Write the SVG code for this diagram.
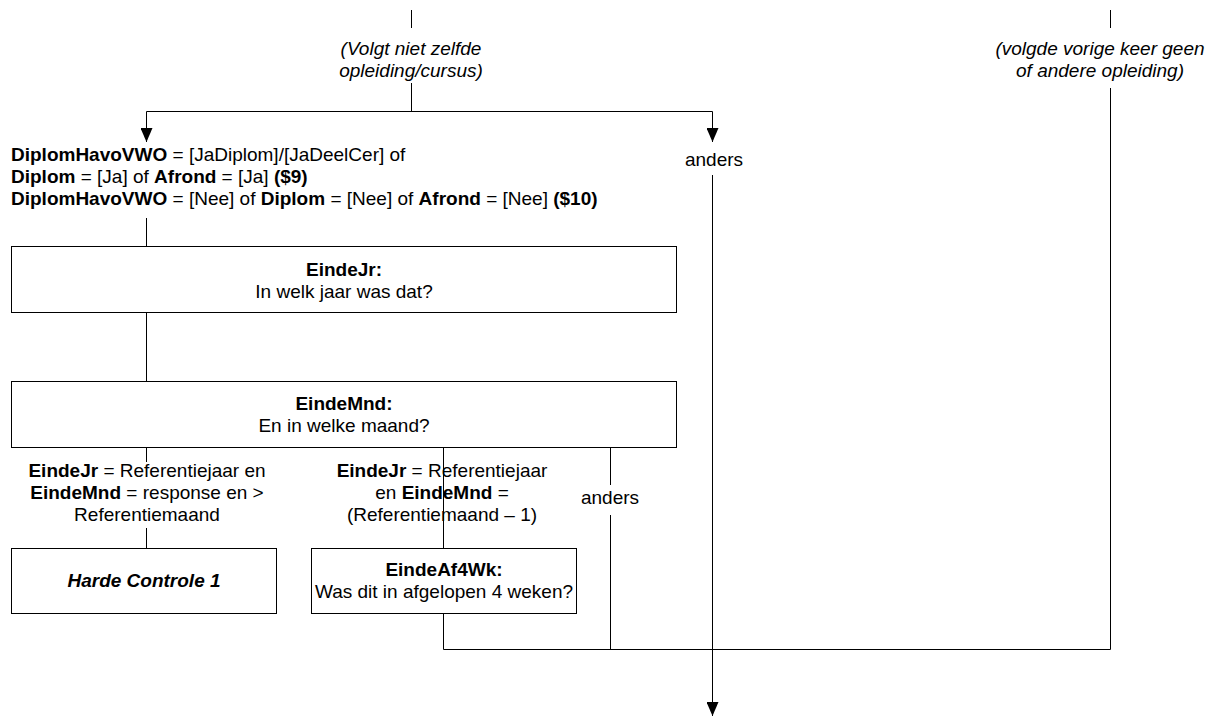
<svg xmlns="http://www.w3.org/2000/svg" width="1208" height="716" viewBox="0 0 1208 716">
<defs>
<marker id="arr" markerWidth="14" markerHeight="12" refX="14" refY="6" orient="auto" markerUnits="userSpaceOnUse" viewBox="0 0 14 12">
<path d="M0,0 L14,6 L0,12 Z" fill="#000"/>
</marker>
<style>
text{font-family:"Liberation Sans",Arial,sans-serif;font-size:19px;fill:#000}
.c{text-anchor:middle}
.b{font-weight:bold}
.i{font-style:italic}
.box{fill:#fff;stroke:#000;stroke-width:1}
.ln{fill:none;stroke:#000;stroke-width:1}
</style>
</defs>
<rect width="1208" height="716" fill="#fff"/>
<g id="connectors">
<path class="ln" d="M411.5,10 V28"/>
<path class="ln" d="M411.5,83 V111.5"/>
<path class="ln" d="M146.5,111.5 H712.5"/>
<path class="ln" d="M146.5,111.5 V142" marker-end="url(#arr)"/>
<path class="ln" d="M712.5,111.5 V142" marker-end="url(#arr)"/>
<path class="ln" d="M146.5,218 V246"/>
<path class="ln" d="M146.5,312 V381"/>
<path class="ln" d="M146.5,447 V462"/>
<path class="ln" d="M146.5,528 V548"/>
<path class="ln" d="M443.5,447 V548"/>
<path class="ln" d="M443.5,614 V649.5 H1110.5"/>
<path class="ln" d="M610.5,447 V485"/>
<path class="ln" d="M610.5,515 V649.5"/>
<path class="ln" d="M712.5,175 V716" marker-end="url(#arr)"/>
<path class="ln" d="M1110.5,10 V28"/>
<path class="ln" d="M1110.5,88 V649.5"/>
</g>
<g id="label-top">
<text class="c i" x="411" y="55">(Volgt niet zelfde</text>
<text class="c i" x="411" y="77">opleiding/cursus)</text>
</g>
<g id="label-right">
<text class="c i" x="1100" y="55">(volgde vorige keer geen</text>
<text class="c i" x="1100" y="77">of andere opleiding)</text>
</g>
<g id="cond-diplom">
<text x="11" y="161"><tspan class="b">DiplomHavoVWO</tspan> = [JaDiplom]/[JaDeelCer] of</text>
<text x="11" y="183"><tspan class="b">Diplom</tspan> = [Ja] of <tspan class="b">Afrond</tspan> = [Ja] <tspan class="b">($9)</tspan></text>
<text x="11" y="205"><tspan class="b">DiplomHavoVWO</tspan> = [Nee] of <tspan class="b">Diplom</tspan> = [Nee] of <tspan class="b">Afrond</tspan> = [Nee] <tspan class="b">($10)</tspan></text>
</g>
<g id="label-anders-1">
<text class="c" x="714" y="166">anders</text>
</g>
<g id="node-eindejr">
<rect class="box" x="11.5" y="246.5" width="665" height="66"/>
<text class="c b" x="344" y="276">EindeJr:</text>
<text class="c" x="344" y="298">In welk jaar was dat?</text>
</g>
<g id="node-eindemnd">
<rect class="box" x="11.5" y="381.5" width="665" height="66"/>
<text class="c b" x="344" y="410">EindeMnd:</text>
<text class="c" x="344" y="432">En in welke maand?</text>
</g>
<g id="cond-left">
<text class="c" x="147" y="477"><tspan class="b">EindeJr</tspan> = Referentiejaar en</text>
<text class="c" x="147" y="499"><tspan class="b">EindeMnd</tspan> = response en &gt;</text>
<text class="c" x="147" y="521">Referentiemaand</text>
</g>
<g id="cond-mid">
<text class="c" x="442" y="477"><tspan class="b">EindeJr</tspan> = Referentiejaar</text>
<text class="c" x="442" y="499">en <tspan class="b">EindeMnd</tspan> =</text>
<text class="c" x="442" y="521">(Referentiemaand – 1)</text>
</g>
<g id="label-anders-2">
<text class="c" x="610" y="504">anders</text>
</g>
<g id="node-harde">
<rect class="box" x="11.5" y="548.5" width="265" height="65"/>
<text class="c b i" x="144" y="587">Harde Controle 1</text>
</g>
<g id="node-eindeaf4wk">
<rect class="box" x="311.5" y="548.5" width="265" height="65"/>
<text class="c b" x="444" y="576">EindeAf4Wk:</text>
<text class="c" x="444" y="598">Was dit in afgelopen 4 weken?</text>
</g>
</svg>
